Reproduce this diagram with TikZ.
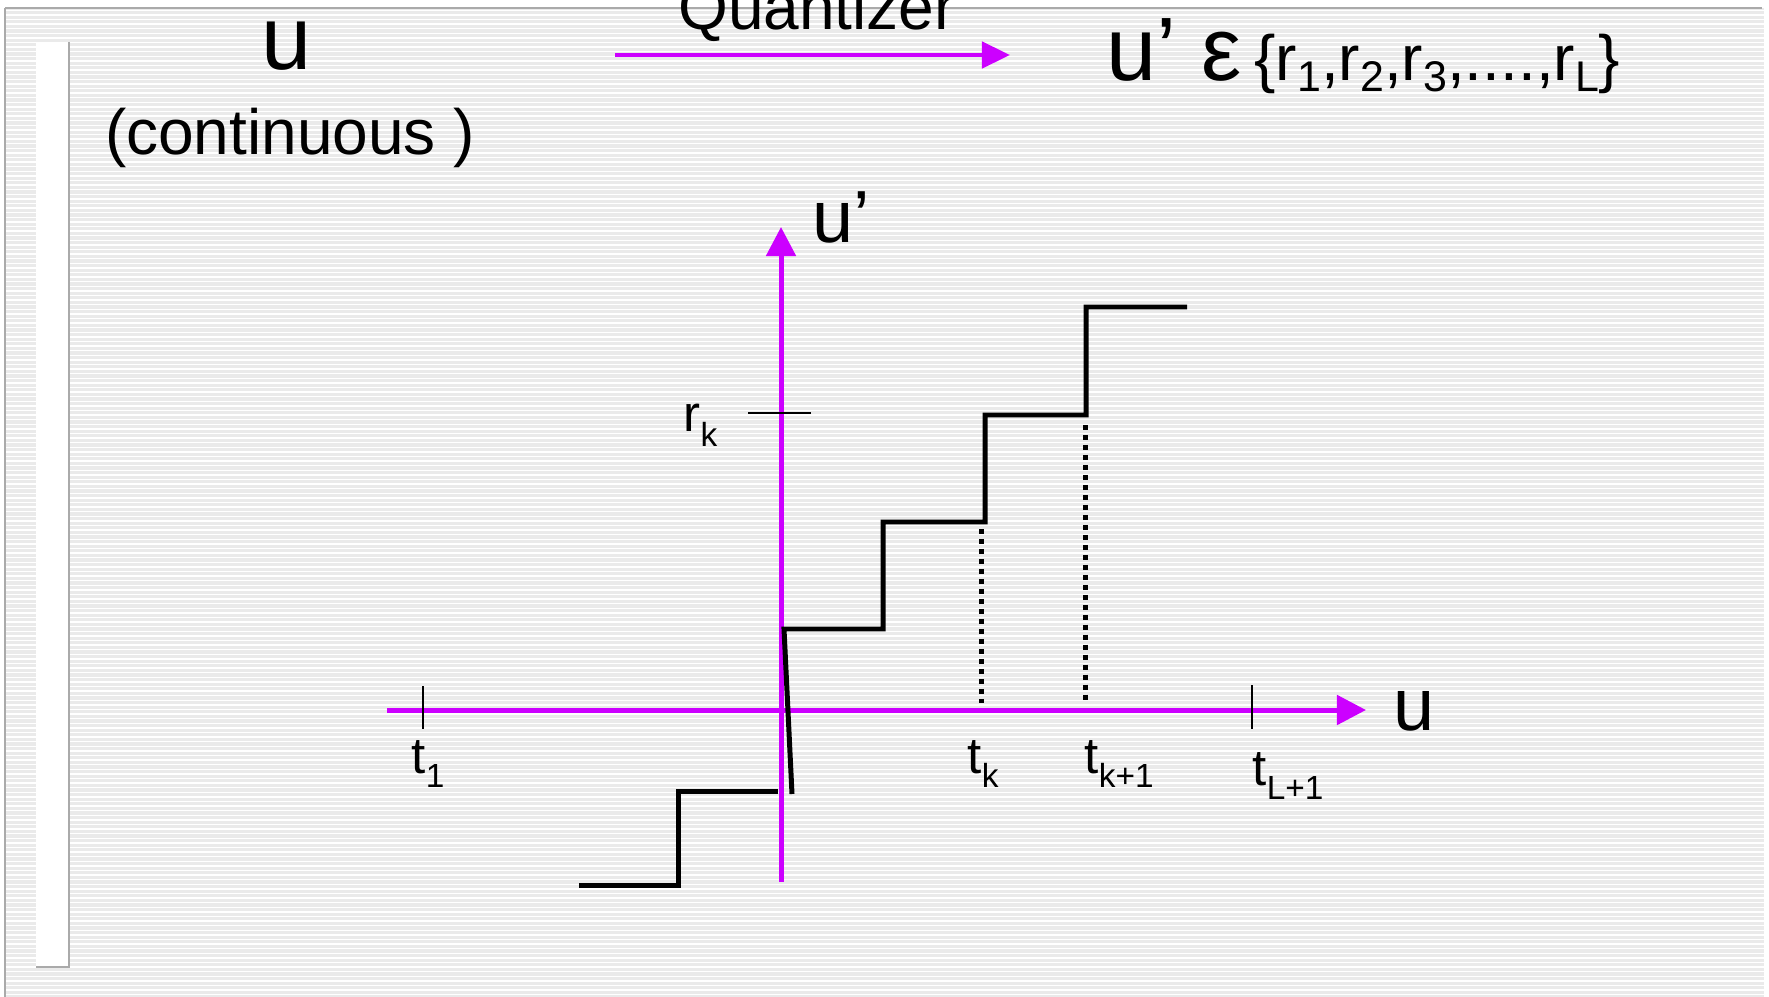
\documentclass[tikz,border=0pt]{standalone}
\usepackage{fontspec}
\setmainfont{Liberation Sans}
\usetikzlibrary{arrows.meta}

\definecolor{qmagenta}{RGB}{204,0,255}
\definecolor{slidegray}{RGB}{234,234,234}
\definecolor{edgegray}{RGB}{170,170,170}

\newcommand{\lowsub}[1]{\raisebox{-4.2pt}{\fontsize{9.5}{11}\selectfont #1}}
\newcommand{\topsub}[1]{\raisebox{-3.1pt}{\fontsize{12.2}{14}\selectfont #1}}

\begin{document}
\begin{tikzpicture}[
        x=0.01cm, y=-0.01cm,
        >={Triangle[length=2.9mm,width=2.9mm]},
        axis/.style={->,qmagenta,line width=1.42pt},
        stair/.style={line width=1.42pt},
        tickmark/.style={line width=0.6pt},
        guide/.style={line width=1.42pt,dash pattern=on 1.42pt off 1.42pt},
        lbl/.style={anchor=base west,inner sep=0pt,font=\fontsize{14.5}{17}\selectfont},
        stripe/.style={white,line width=0.37pt}
    ]
        \clip (0,0) rectangle (1769,997);

        % slide background
        \fill[slidegray] (5,8) rectangle (1764,997);
        \foreach \y in {10.3,14.9,...,997} \draw[stripe] (5,\y) -- (1764,\y);
        \draw[edgegray,line width=0.85pt] (5,8) -- (1762,8);
        \draw[edgegray,line width=0.6pt] (5,8) -- (5,997);
        \fill[white] (36,42) rectangle (69,966);
        \draw[edgegray,line width=0.6pt] (69,42) -- (69,967) -- (36,967);

        % top line: u -> u'
        \node[anchor=base,inner sep=0pt,font=\fontsize{25.6}{30}\selectfont] (uin) at (287,70) {u};
        \node[anchor=base,inner sep=0pt,font=\fontsize{18.2}{22}\selectfont] (cont) at (290,155) {(continuous )};
        \node[anchor=base,inner sep=0pt,font=\fontsize{18.2}{22}\selectfont] (quant) at (817,30) {Quantizer};
        \coordinate (qin) at (615,55);
        \coordinate (qout) at (1010,55);
        \draw[->,qmagenta,line width=1.3pt,>={Triangle[length=2.8mm,width=2.6mm]}] (qin) -- (qout);
        \node[anchor=base west,inner sep=0pt] (uout) at (1106,81)
            {{\fontsize{25.6}{30}\selectfont u’ ε}\hspace{3.6pt}\fontsize{18.2}{22}\selectfont\{r\topsub{1},r\topsub{2},r\topsub{3},....,r\topsub{L}\}};

        % axes
        \coordinate (ubot) at (781,882);
        \coordinate (utop) at (781,227);
        \coordinate (uleft) at (387,710);
        \coordinate (uright) at (1366,710);
        \draw[axis] (uleft) -- (uright);
        \draw[axis] (ubot) -- (utop);
        \node[anchor=base west,inner sep=0pt,font=\fontsize{21}{25}\selectfont] (uprime) at (812,243) {u’};
        \node[anchor=base west,inner sep=0pt,font=\fontsize{21}{25}\selectfont] (uaxis) at (1393,730) {u};

        % ticks
        \draw[tickmark] (423,686) -- (423,729);
        \draw[tickmark] (1252,685) -- (1252,729);
        \draw[tickmark] (748,413) -- (811,413);

        % quantizer staircase
        \draw[stair] (579,885) -- (678,885) -- (678,791) -- (778,791);
        \draw[stair] (792,794) -- (784,629) -- (883,629) -- (883,522) -- (985,522)
            -- (985,415) -- (1086,415) -- (1086,307) -- (1187,307);
        \draw[guide] (981,529) -- (981,703);
        \draw[guide] (1085,425) -- (1085,704);

        % labels
        \node[lbl] (t1) at (411,773) {t\lowsub{1}};
        \node[lbl] (tk) at (967,773) {t\lowsub{k}};
        \node[lbl] (tk1) at (1084,773) {t\lowsub{k+1}};
        \node[lbl] (tL1) at (1252,785) {t\lowsub{L+1}};
        \node[lbl] (rk) at (683,432) {r\lowsub{k}};
    \end{tikzpicture}
\end{document}
